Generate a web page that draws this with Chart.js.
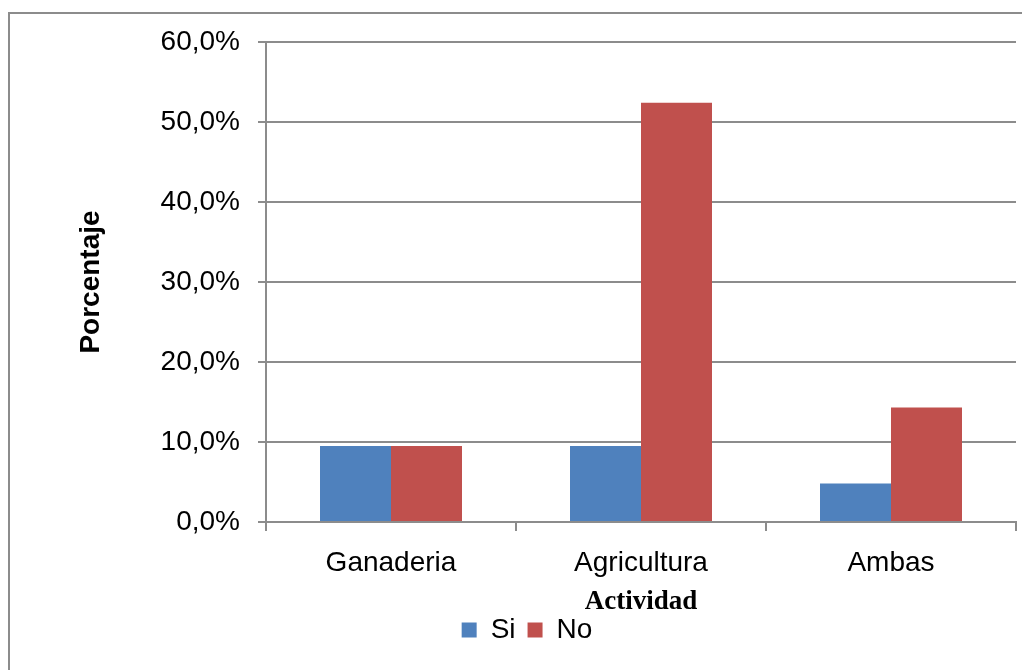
<!DOCTYPE html>
<html>
<head>
<meta charset="utf-8">
<script src="https://cdn.jsdelivr.net/npm/chart.js@4.4.0/dist/chart.umd.min.js"></script>
<style>
  html, body { margin: 0; padding: 0; background: #fff; }
  #wrap { width: 1022px; height: 670px; }
</style>
</head>
<body>
<div id="wrap"><canvas id="chart" width="1022" height="670"></canvas></div>
<script>
const categories = ["Ganaderia", "Agricultura", "Ambas"];
const siValues = [9.5, 9.5, 4.8];
const noValues = [9.5, 52.4, 14.3];
const yTicks = [0, 10, 20, 30, 40, 50, 60];

const grey = "#8c8c8c";
const padLeft = 38;

// grey frame around the whole chart
const frame = {
  id: "frame",
  beforeDraw(chart) {
    const ctx = chart.ctx;
    ctx.save();
    ctx.fillStyle = "#fff";
    ctx.fillRect(0, 0, chart.width, chart.height);
    ctx.strokeStyle = grey;
    ctx.lineWidth = 2;
    ctx.strokeRect(9, 13, 1100, 1000);
    ctx.restore();
  }
};

new Chart(document.getElementById("chart"), {
  type: "bar",
  data: {
    labels: categories,
    datasets: [
      { label: "Si", data: siValues, backgroundColor: "#4f81bd" },
      { label: "No", data: noValues, backgroundColor: "#c0504d" }
    ]
  },
  options: {
    responsive: false,
    animation: false,
    layout: { padding: { left: padLeft, right: 6, top: 42, bottom: 16 } },
    datasets: { bar: { categoryPercentage: 0.568, barPercentage: 1 } },
    scales: {
      x: {
        grid: { drawOnChartArea: false, drawTicks: true, tickLength: 9, color: grey, lineWidth: 2 },
        border: { display: true, color: grey, width: 2 },
        ticks: { color: "#000", padding: 15, font: { family: "Liberation Sans", size: 28 } },
        title: {
          display: true,
          text: "Actividad",
          color: "#000",
          font: { family: "Liberation Serif", size: 27, weight: "bold", lineHeight: 1 },
          padding: { top: 0, bottom: -12 }
        },
        afterFit(scale) { scale.height = 82; }
      },
      y: {
        min: 0,
        max: 60,
        afterBuildTicks(scale) { scale.ticks = yTicks.map(v => ({ value: v })); },
        grid: { color: grey, lineWidth: 2, tickLength: 8 },
        border: { display: true, color: grey, width: 2 },
        ticks: {
          color: "#000",
          padding: 18,
          font: { family: "Liberation Sans", size: 28 },
          callback: v => v.toFixed(1).replace(".", ",") + "%"
        },
        title: {
          display: true,
          text: "Porcentaje",
          color: "#000",
          font: { family: "Liberation Sans", size: 28, weight: "bold", lineHeight: 1 },
          padding: { top: 77 - padLeft, bottom: 0 }
        },
        afterFit(scale) { scale.width = 266 - padLeft; }
      }
    },
    plugins: {
      legend: {
        position: "bottom",
        labels: {
          color: "#000",
          boxWidth: 15,
          boxHeight: 15,
          padding: 12,
          font: { family: "Liberation Sans", size: 28 }
        }
      },
      tooltip: { enabled: false }
    }
  },
  plugins: [frame]
});
</script>
</body>
</html>
